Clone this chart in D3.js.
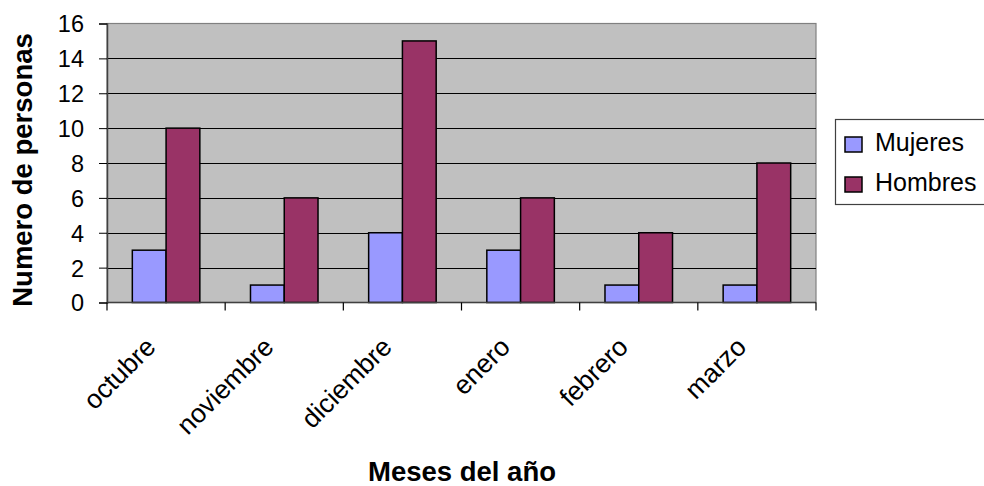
<!DOCTYPE html>
<html>
<head>
<meta charset="utf-8">
<script src="https://cdn.jsdelivr.net/npm/d3@7"></script>
<style>
  html, body { margin: 0; padding: 0; background: #fff; }
  svg { display: block; font-family: "Liberation Sans", Arial, sans-serif; }
</style>
</head>
<body>
<svg id="chart" width="984" height="486"></svg>
<script>
// Monthly counts of people, split by sex
const months = ["octubre", "noviembre", "diciembre", "enero", "febrero", "marzo"];
const seriesNames = ["Mujeres", "Hombres"];
const mujeres = [3, 1, 4, 3, 1, 1];
const hombres = [10, 6, 15, 6, 4, 8];
const yTicks = [0, 2, 4, 6, 8, 10, 12, 14, 16];
const colors = ["#9999FF", "#993366"];

const seriesValues = [mujeres, hombres];
const rows = months.map((m, i) => ({ month: m, values: seriesNames.map((s, j) => ({ key: s, value: seriesValues[j][i], idx: j })) }));

const svg = d3.select("#chart");
const plot = { left: 107, right: 816, top: 23.5, bottom: 302.5 };

const x0 = d3.scaleBand().domain(months).range([plot.left, plot.right]).padding(0);
const x1 = d3.scaleBand().domain(seriesNames).range([0, x0.bandwidth()]).paddingInner(0).paddingOuter(0.75);
const y = d3.scaleLinear().domain([0, 16]).range([plot.bottom, plot.top]);

// plot background
svg.append("rect")
  .attr("x", plot.left).attr("y", plot.top)
  .attr("width", plot.right - plot.left).attr("height", plot.bottom - plot.top)
  .attr("fill", "#C0C0C0").attr("stroke", "#808080").attr("stroke-width", 1.2);

// horizontal gridlines
svg.append("g").selectAll("line").data(yTicks.filter(t => t > 0 && t < 16)).join("line")
  .attr("x1", plot.left).attr("x2", plot.right)
  .attr("y1", d => Math.round(y(d)) + 0.5).attr("y2", d => Math.round(y(d)) + 0.5)
  .attr("stroke", "#000").attr("stroke-width", 1);

// bars
const groups = svg.append("g").selectAll("g").data(rows).join("g")
  .attr("transform", d => `translate(${x0(d.month)},0)`);
groups.selectAll("rect").data(d => d.values).join("rect")
  .attr("x", d => x1(d.key))
  .attr("y", d => y(d.value))
  .attr("width", x1.bandwidth())
  .attr("height", d => y(0) - y(d.value))
  .attr("fill", d => colors[d.idx])
  .attr("stroke", "#000").attr("stroke-width", 1.5);

// y axis
const yAxis = d3.axisLeft(y).tickValues(yTicks).tickSize(8).tickPadding(15).tickFormat(d3.format("d"));
const gy = svg.append("g").attr("transform", `translate(${plot.left},0)`).call(yAxis);
gy.select(".domain").attr("stroke", "#404040").attr("stroke-width", 1.5);
gy.selectAll(".tick line").attr("stroke", "#000");
gy.selectAll(".tick text").attr("font-size", 23.5).attr("fill", "#000")
  .attr("font-family", "'Liberation Sans', Arial, sans-serif").attr("dy", "0.36em");

// x axis: ticks on category boundaries
const gx = svg.append("g").attr("transform", `translate(0,${plot.bottom})`);
gx.append("line").attr("x1", plot.left).attr("x2", plot.right).attr("y1", 0).attr("y2", 0)
  .attr("stroke", "#404040").attr("stroke-width", 1.5);
const bounds = months.map(m => x0(m)).concat([x0(months[months.length - 1]) + x0.bandwidth()]);
gx.selectAll("line.tk").data(bounds).join("line").attr("class", "tk")
  .attr("x1", d => d).attr("x2", d => d).attr("y1", 0).attr("y2", 8)
  .attr("stroke", "#000").attr("stroke-width", 1.2);
gx.selectAll("text").data(months).join("text")
  .attr("transform", d => `translate(${x0(d) + x0.bandwidth() / 2 - 9},${46}) rotate(-45)`)
  .attr("text-anchor", "end")
  .attr("font-size", 26.5).attr("fill", "#000")
  .text(d => d);

// axis titles
svg.append("text")
  .attr("transform", `translate(32,170) rotate(-90)`)
  .attr("text-anchor", "middle")
  .attr("font-size", 27.5).attr("font-weight", "bold").attr("fill", "#000")
  .text("Numero de personas");
svg.append("text")
  .attr("x", 462).attr("y", 481)
  .attr("text-anchor", "middle")
  .attr("font-size", 27.5).attr("font-weight", "bold").attr("fill", "#000")
  .text("Meses del año");

// legend
const lg = svg.append("g");
lg.append("rect").attr("x", 835.5).attr("y", 119.5).attr("width", 160).attr("height", 85)
  .attr("fill", "#fff").attr("stroke", "#404040").attr("stroke-width", 1.2);
const items = lg.selectAll("g").data(seriesNames).join("g")
  .attr("transform", (d, i) => `translate(845,${137 + i * 40})`);
items.append("rect").attr("width", 17).attr("height", 15)
  .attr("fill", (d, i) => colors[i]).attr("stroke", "#000").attr("stroke-width", 1.5);
items.append("text").attr("x", 30).attr("y", 14)
  .attr("font-size", 25).attr("fill", "#000")
  .text(d => d);
</script>
</body>
</html>
